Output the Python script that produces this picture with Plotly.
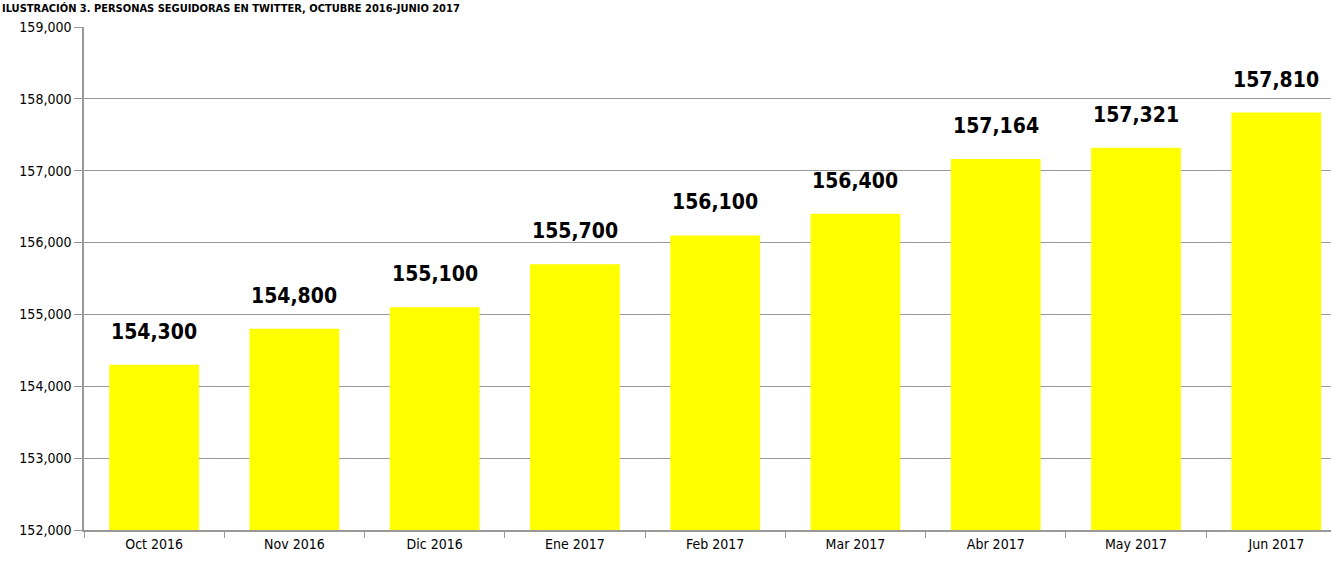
import plotly.graph_objects as go

categories = ["Oct 2016", "Nov 2016", "Dic 2016", "Ene 2017", "Feb 2017",
              "Mar 2017", "Abr 2017", "May 2017", "Jun 2017"]
values = [154300, 154800, 155100, 155700, 156100, 156400, 157164, 157321, 157810]
title_text = "ILUSTRACIÓN 3. PERSONAS SEGUIDORAS EN TWITTER, OCTUBRE 2016-JUNIO 2017"

fig = go.Figure()
fig.add_trace(go.Bar(
    x=categories, y=values,
    marker=dict(color="#FFFF00", line=dict(width=0)),
    width=0.64,
))

annotations = [dict(
    x=c, y=v, xref="x", yref="y", text=f"{v:,}", showarrow=False,
    yanchor="bottom", yshift=19,
    font=dict(family="DejaVu Sans Condensed", size=21, color="#000000", weight="bold"),
) for c, v in zip(categories, values)]

annotations.append(dict(
    text=title_text, xref="paper", yref="paper",
    x=-84/1247, y=1 + 27/503, xanchor="left", yanchor="top",
    showarrow=False,
    font=dict(family="DejaVu Sans Condensed", size=11, color="#000000", weight="bold"),
))

fig.update_layout(
    width=1331, height=568,
    margin=dict(l=84, r=0, t=27, b=38),
    paper_bgcolor="white", plot_bgcolor="white",
    showlegend=False,
    font=dict(family="DejaVu Sans Condensed", size=14, color="#000000"),
    xaxis=dict(
        automargin=False,
        range=[-0.5, 8.39],
        showline=True, linecolor="#999999", linewidth=1.5,
        ticks="outside", tickson="boundaries", ticklen=6, tickcolor="#999999",
        tickfont=dict(family="DejaVu Sans Condensed", size=14),
        showgrid=False,
    ),
    yaxis=dict(
        automargin=False,
        range=[152000, 159000], dtick=1000, tickformat=",d",
        showline=True, linecolor="#999999", linewidth=1.5,
        ticks="outside", ticklen=8, tickcolor="#999999",
        showgrid=True, gridcolor="#999999", gridwidth=1,
        tickfont=dict(family="DejaVu Sans Condensed", size=14),
        zeroline=False,
    ),
    annotations=annotations,
)

fig.write_html("out.html", config={"displayModeBar": False},
               post_script="document.body.style.margin='0';")
